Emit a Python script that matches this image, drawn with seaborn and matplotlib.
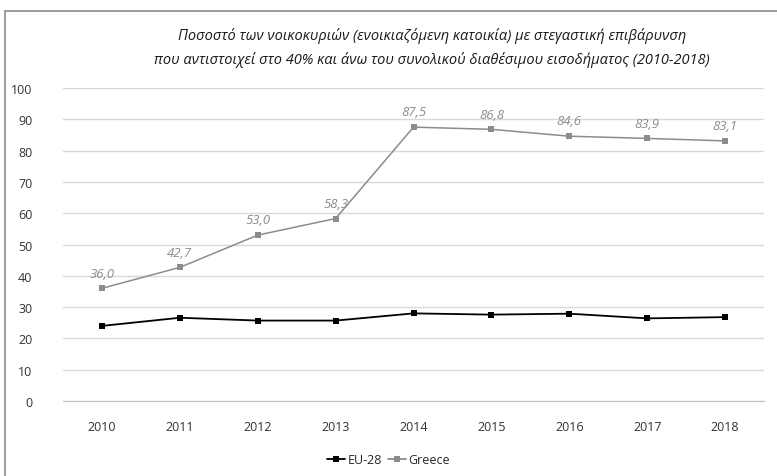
import pandas as pd
import matplotlib.pyplot as plt
import seaborn as sns
from matplotlib.patches import Rectangle
from matplotlib.ticker import FixedLocator

years = [2010, 2011, 2012, 2013, 2014, 2015, 2016, 2017, 2018]
eu28 = [24.0, 26.6, 25.7, 25.7, 28.0, 27.6, 27.9, 26.4, 26.8]
greece = [36.0, 42.7, 53.0, 58.3, 87.5, 86.8, 84.6, 83.9, 83.1]
greece_labels = ["36,0", "42,7", "53,0", "58,3", "87,5", "86,8", "84,6", "83,9", "83,1"]
y_ticks = [0, 10, 20, 30, 40, 50, 60, 70, 80, 90, 100]

title = ("Ποσοστό των νοικοκυριών (ενοικιαζόμενη κατοικία) με στεγαστική επιβάρυνση\n"
         "που αντιστοιχεί στο 40% και άνω του συνολικού διαθέσιμου εισοδήματος (2010-2018)")

sns.set_style("white")
plt.rcParams['font.family'] = ['Open Sans', 'DejaVu Sans']

df = pd.DataFrame({
    "year": years * 2,
    "value": eu28 + greece,
    "series": ["EU-28"] * len(years) + ["Greece"] * len(years),
})

fig = plt.figure(figsize=(7.77, 4.77), dpi=100)
ax = fig.add_axes([0.0811, 0.1572, 0.9022, 0.6562])

# outer chart border
fig.patches.append(Rectangle((5 / 777, -0.05), 1.1, 1 - 12 / 477 + 0.05,
                             transform=fig.transFigure, fill=False,
                             edgecolor="#8c8c8c", linewidth=1.2))

palette = {"EU-28": "#000000", "Greece": "#8c8c8c"}
sns.lineplot(data=df, x="year", y="value", hue="series", palette=palette,
             marker="s", markersize=4.5, markeredgewidth=0, linewidth=1.3,
             ax=ax, legend=True)
ax.lines[1].set_linewidth(1.1)

for x, y, lab in zip(years, greece, greece_labels):
    ax.text(x, y + 2.8, lab, ha="center", va="bottom", fontsize=9.5,
            style="italic", color="#8c8c8c")

ax.set_xlim(2009.5, 2018.5)
ax.set_ylim(0, 100)
ax.set_yticks(y_ticks)
ax.set_xticks(years)
ax.set_xticklabels([str(y) for y in years])
ax.xaxis.set_minor_locator(FixedLocator([y - 0.5 for y in years] + [2018.5]))
ax.tick_params(axis="x", which="major", length=0, pad=14, labelsize=9, labelcolor="#333333")
ax.tick_params(axis="x", which="minor", length=6, color="#bfbfbf", width=1)
ax.tick_params(axis="y", length=0, pad=22, labelsize=9, labelcolor="#333333")
ax.grid(axis="y", color="#d9d9d9", linewidth=1)
ax.set_axisbelow(True)
for s in ["top", "right", "left"]:
    ax.spines[s].set_visible(False)
ax.spines["bottom"].set_color("#bfbfbf")
ax.set_xlabel("")
ax.set_ylabel("")

fig.text(0.556, 1 - 48 / 477, title, ha="center", va="center", fontsize=10.5,
         style="italic", color="#1a1a1a", linespacing=1.6)

handles, labels = ax.get_legend_handles_labels()
ax.legend(handles, labels, loc="center", bbox_to_anchor=(0.5, 0.034),
          bbox_transform=fig.transFigure, ncol=2, frameon=False, fontsize=9,
          handlelength=1.4, handletextpad=0.2, columnspacing=0.5)

fig.savefig("out.png", dpi=100)
